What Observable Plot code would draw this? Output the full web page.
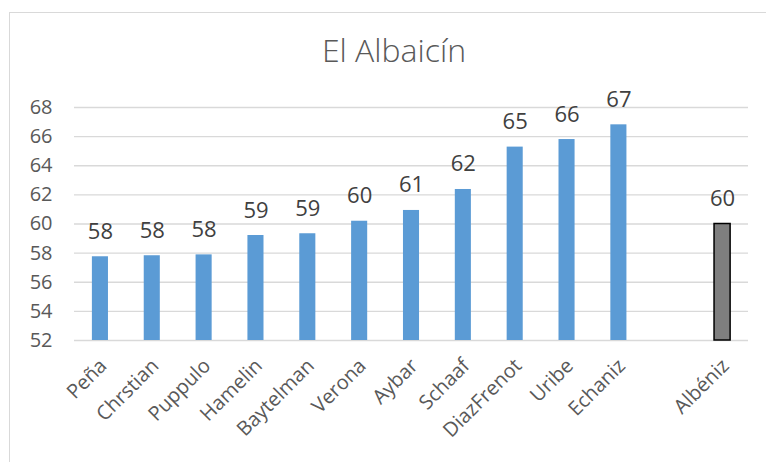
<!DOCTYPE html>
<html>
<head>
<meta charset="utf-8">
<script src="https://cdn.jsdelivr.net/npm/d3@7"></script>
<script src="https://cdn.jsdelivr.net/npm/@observablehq/plot@0.6"></script>
<style>
  body { margin: 0; background: #fff; }
  #chart { position: relative; width: 766px; height: 462px; overflow: hidden; font-family: "Open Sans", sans-serif; }
  #frame { position: absolute; left: 9px; top: 12px; width: 800px; height: 500px;
           border-top: 1.5px solid #d9d9d9; border-left: 1.5px solid #d9d9d9; }
  #title { position: absolute; left: 10px; width: 768px; top: 34px; line-height: 32px;
           text-align: center; font-size: 32px; font-weight: 300; color: #595959; }
  #plot { position: absolute; left: 0; top: 0; }
</style>
</head>
<body>
<div id="chart">
  <div id="frame"></div>
  <div id="title">El Albaicín</div>
  <div id="plot"></div>
</div>
<script>
// Scores per performer
const names = ["Peña", "Chrstian", "Puppulo", "Hamelin", "Baytelman", "Verona", "Aybar", "Schaaf", "DiazFrenot", "Uribe", "Echaniz"];
const scores = [57.75, 57.82, 57.88, 59.21, 59.33, 60.19, 60.93, 62.37, 65.28, 65.8, 66.81];

// Reference recording, shown apart after a blank slot
const referenceName = "Albéniz";
const referenceScore = 60;
const spacer = " ";

const yTicks = [52, 54, 56, 58, 60, 62, 64, 66, 68];

const players = names.map((name, i) => ({name, score: scores[i]}));
const reference = [{name: referenceName, score: referenceScore}];
const domain = [...names, spacer, referenceName];
const fmt = d3.format(".0f");

const chart = Plot.plot({
  width: 766,
  height: 462,
  marginLeft: 74,
  marginRight: 18,
  marginTop: 107,
  marginBottom: 122,
  style: {fontFamily: "'Open Sans', sans-serif", color: "#595959", background: "transparent"},
  x: {domain, paddingInner: 0.69, paddingOuter: 0.345, round: false},
  y: {domain: [yTicks[0], yTicks[yTicks.length - 1]]},
  marks: [
    Plot.ruleY(yTicks, {stroke: "#d9d9d9", strokeWidth: 1.3}),
    Plot.axisY({ticks: yTicks, tickSize: 0, tickPadding: 22, fontSize: 20, tickFormat: d3.format("d"), label: null}),
    Plot.axisX({tickSize: 0, tickRotate: -45, tickPadding: 22, dx: 3, fontSize: 20, label: null}),
    Plot.barY(players, {x: "name", y1: yTicks[0], y2: "score", fill: "#5b9bd5"}),
    Plot.barY(reference, {x: "name", y1: yTicks[0], y2: "score", fill: "#7f7f7f", stroke: "#000", strokeWidth: 1.5}),
    Plot.text([...players, ...reference], {
      x: "name", y: "score", text: d => fmt(d.score),
      lineAnchor: "bottom", dy: -18, fontSize: 22, fill: "#404040"
    })
  ]
});
document.getElementById("plot").append(chart);
</script>
</body>
</html>
